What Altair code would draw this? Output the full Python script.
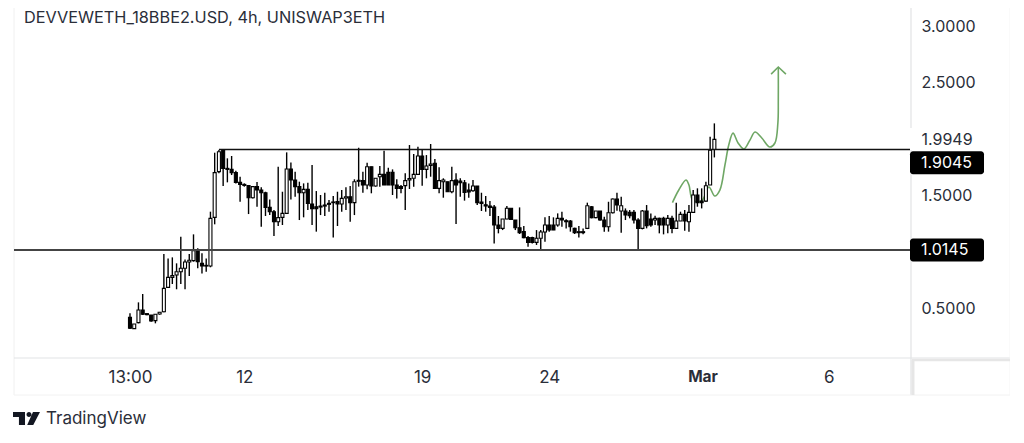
import altair as alt
import pandas as pd

# ---- chart values ----
OPEN = [.417,.317,.370,.482,.450,.438,.388,.447,.467,.683,.772,.793,.822,.852,.908,.920,1.008,.896,.878,.872,
1.304,1.709,1.895,1.738,1.729,1.700,1.614,1.596,1.585,1.478,1.576,1.546,1.522,1.392,1.354,1.265,1.304,1.339,1.732,1.635,
1.576,1.522,1.552,1.422,1.398,1.395,1.404,1.419,1.434,1.443,1.422,1.475,1.487,1.434,1.623,1.629,1.590,1.753,1.582,1.664,
1.685,1.703,1.703,1.590,1.576,1.585,1.635,1.650,1.685,1.848,1.729,1.765,1.783,1.561,1.620,1.620,1.531,1.635,1.626,1.611,
1.546,1.540,1.582,1.440,1.416,1.404,1.395,1.236,1.206,1.289,1.384,1.280,1.212,1.177,1.124,1.124,1.082,1.118,1.174,1.236,
1.236,1.236,1.295,1.274,1.271,1.206,1.168,1.168,1.206,1.398,1.301,1.360,1.280,1.221,1.345,1.466,1.360,1.360,1.348,1.348,
1.280,1.206,1.360,1.289,1.280,1.295,1.295,1.236,1.295,1.206,1.271,1.330,1.265,1.348,1.502,1.448,1.448,1.590,1.906]
CLOSE = [.320,.358,.482,.444,.441,.385,.444,.462,.674,.772,.787,.822,.852,.908,.923,1.008,.911,.872,.872,1.295,
1.700,1.886,1.738,1.729,1.700,1.614,1.596,1.587,1.478,1.576,1.546,1.522,1.392,1.354,1.265,1.301,1.339,1.732,1.635,1.576,
1.522,1.552,1.428,1.381,1.381,1.404,1.413,1.428,1.440,1.422,1.472,1.487,1.434,1.620,1.632,1.590,1.753,1.582,1.650,1.685,
1.590,1.590,1.590,1.561,1.561,1.629,1.647,1.685,1.848,1.729,1.759,1.777,1.561,1.629,1.635,1.531,1.629,1.590,1.611,1.525,
1.528,1.582,1.434,1.428,1.404,1.392,1.236,1.206,1.289,1.384,1.286,1.212,1.168,1.124,1.082,1.082,1.118,1.174,1.236,1.191,
1.191,1.295,1.280,1.265,1.221,1.168,1.177,1.177,1.407,1.301,1.360,1.280,1.221,1.345,1.466,1.413,1.407,1.324,1.318,1.280,
1.206,1.360,1.230,1.236,1.295,1.236,1.236,1.295,1.206,1.271,1.330,1.271,1.348,1.502,1.434,1.434,1.584,1.900,1.995]
HIGH = [.453,.358,.550,.624,.450,.438,.444,.465,.979,.940,.949,.896,1.132,.931,.979,1.153,1.029,.985,.940,1.354,
1.877,1.901,1.901,1.827,1.848,1.717,1.664,1.605,1.590,1.582,1.617,1.570,1.531,1.463,1.369,1.753,1.531,1.880,1.791,1.709,
1.620,1.605,1.611,1.768,1.537,1.502,1.522,1.457,1.493,1.531,1.546,1.570,1.582,1.641,1.921,1.709,1.788,1.753,1.650,1.759,
1.895,1.744,1.729,1.641,1.590,1.694,1.945,1.865,1.930,1.907,1.856,1.954,1.821,1.747,1.650,1.620,1.753,1.694,1.650,1.635,
1.605,1.635,1.582,1.522,1.493,1.449,1.413,1.316,1.289,1.404,1.384,1.280,1.392,1.227,1.138,1.132,1.191,1.191,1.304,1.316,
1.304,1.339,1.354,1.286,1.280,1.212,1.227,1.206,1.434,1.404,1.360,1.360,1.309,1.442,1.472,1.522,1.487,1.383,1.369,1.369,
1.295,1.369,1.413,1.339,1.318,1.301,1.309,1.324,1.318,1.434,1.354,1.369,1.413,1.546,1.561,1.561,1.620,2.019,2.137]
LOW = [.314,.314,.364,.438,.435,.379,.364,.441,.462,.680,.713,.666,.713,.666,.784,.911,.852,.807,.822,.861,
1.242,1.694,1.582,1.614,1.679,1.605,1.443,1.576,1.333,1.472,1.398,1.221,1.316,1.324,1.138,1.227,1.236,1.339,1.463,1.487,
1.280,1.304,1.369,1.236,1.177,1.324,1.316,1.354,1.126,1.227,1.354,1.369,1.265,1.324,1.576,1.522,1.552,1.517,1.576,1.576,
1.590,1.590,1.502,1.472,1.517,1.369,1.555,1.576,1.679,1.585,1.650,1.664,1.561,1.517,1.478,1.531,1.517,1.245,1.487,1.452,
1.478,1.531,1.413,1.360,1.354,1.316,1.073,1.162,1.191,1.286,1.280,1.191,1.156,1.118,1.044,1.073,1.059,1.014,1.088,1.177,
1.191,1.221,1.221,1.206,1.177,1.156,1.126,1.153,1.200,1.295,1.295,1.274,1.177,1.177,1.339,1.363,1.168,1.280,1.295,1.250,
1.014,1.197,1.206,1.221,1.236,1.162,1.153,1.162,1.162,1.203,1.271,1.185,1.177,1.348,1.398,1.383,1.442,1.590,1.835]

LEVEL_UPPER = 1.9045
LEVEL_LOWER = 1.0145
LEVEL_UPPER_START = 21

SKETCH_X = [128.1,129.6,131.3,132,132.9,135,136.7,138.1,139.3,140.5,141.4,142.4,143.6,145,146.4,147.6,149.2,151.1,152.3,153,153.1,153.1]
SKETCH_Y = [1.434,1.546,1.635,1.590,1.457,1.449,1.573,1.493,1.546,1.768,1.945,2.051,1.963,1.910,1.989,2.060,2.007,1.927,1.963,2.140,2.344,2.637]
HEAD_X = [151.4,153.1,154.9]
HEAD_Y = [2.574,2.637,2.574]

TICK_POS = [0,27,69,99,135.2,165]
TICK_TXT = ["13:00","12","19","24","Mar","6"]
PRICE_TICKS = [0.5,1.5,1.9949,2.5,3.0]
TAG_VALUES = ["1.9045","1.0145"]
TAG_CENTER = [1.788,1.0145]
TAG_HALF = 0.102

TITLE = "DEVVEWETH_18BBE2.USD, 4h, UNISWAP3ETH"
BRAND = "TradingView"
FONT = "Inter"
INK = "#2a2e39"
FRAME = "#e2e3e5"
GREEN = "#6fa765"
LOGO = ("M-1 -0.48H-0.11V0.48H-0.56V-0.11H-1Z"
        "M0 -0.3A0.185 0.185 0 1 1 0.37 -0.3A0.185 0.185 0 1 1 0 -0.3Z"
        "M0.48 -0.48H1L0.5 0.48H0.05Z")

# ---- tables ----
candles = pd.DataFrame({"i": range(len(OPEN)), "o": OPEN, "c": CLOSE, "h": HIGH, "l": LOW})
candles["up"] = candles["c"] >= candles["o"]
sketch = pd.DataFrame({"x": SKETCH_X, "y": SKETCH_Y, "n": range(len(SKETCH_X))})
head = pd.DataFrame({"x": HEAD_X, "y": HEAD_Y, "n": range(len(HEAD_X))})
tags = pd.DataFrame({"t": TAG_VALUES, "m": TAG_CENTER})
tags["a"] = tags["m"] - TAG_HALF
tags["b"] = tags["m"] + TAG_HALF

x_dom = [-27.39, 184.2]
y_dom = [0.0567, 3.16]
label_expr = "".join(f"datum.value=={p}?'{t}':" for p, t in zip(TICK_POS, TICK_TXT)) + "''"
x_axis = alt.Axis(values=TICK_POS, labelExpr=label_expr, grid=False, ticks=False, domain=False,
                  labelFont=FONT, labelColor=INK, labelPadding=11, labelAngle=0,
                  labelFontSize={"condition": {"test": "datum.value==135.2", "value": 15.5}, "value": 17},
                  labelFontWeight={"condition": {"test": "datum.value==135.2", "value": "bold"}, "value": "normal"},
                  labelOverlap=False, labelFlush=False)
y_axis = alt.Axis(orient="right", values=PRICE_TICKS, format=".4f", grid=False, ticks=False, domain=False,
                  labelFont=FONT, labelFontSize=16, labelColor=INK, labelPadding=11, labelOverlap=False)


def X(f):
    return alt.X(f, type="quantitative", scale=alt.Scale(domain=x_dom, nice=False, zero=False, padding=0),
                 axis=x_axis, title=None)


def Y(f):
    return alt.Y(f, type="quantitative", scale=alt.Scale(domain=y_dom, nice=False, zero=False, padding=0),
                 axis=y_axis, title=None)


one = alt.Chart(pd.DataFrame({"k": [0]}))


def frame(x, x2, y, y2, color=FRAME, w=1):
    return one.mark_rule(color=color, strokeWidth=w).encode(
        x=alt.value(x), x2=alt.value(x2), y=alt.value(y), y2=alt.value(y2))


frames = [
    frame(0, 0, 0, 387, "#f0f0f0"),
    frame(897, 897, 0, 120, FRAME, 1.2),
    frame(897, 897, 142, 387, FRAME, 1.2),
    frame(0, 996, 350, 350, FRAME, 1.2),
    frame(0, 996, 387, 387, "#f2f2f2"),
    frame(996, 996, 0, 387, "#f4f4f4"),
    frame(898, 996, 352, 352, "#e6e6e6", 2.5),
    frame(899, 899, 352, 387, "#e6e6e6", 3),
]

line_sketch = alt.Chart(sketch).mark_line(color=GREEN, strokeWidth=1.6, interpolate="catmull-rom").encode(
    x=X("x"), y=Y("y"), order="n:Q")
line_head = alt.Chart(head).mark_line(color=GREEN, strokeWidth=1.6).encode(x=X("x"), y=Y("y"), order="n:Q")

wicks = alt.Chart(candles).mark_rule(color="#000000", strokeWidth=1.4).encode(x=X("i"), y=Y("l"), y2="h")
bodies = alt.Chart(candles).mark_bar(size=3, stroke="#000000", strokeWidth=1.1).encode(
    x=X("i"), y=Y("o"), y2="c",
    fill=alt.condition("datum.up", alt.value("#ffffff"), alt.value("#000000")))

upper = alt.Chart(pd.DataFrame({"a": [LEVEL_UPPER_START], "b": [x_dom[1]], "y": [LEVEL_UPPER]})).mark_rule(
    color="#111111", strokeWidth=1.5).encode(x=X("a"), x2="b", y=Y("y"))
lower = alt.Chart(pd.DataFrame({"a": [x_dom[0]], "b": [x_dom[1]], "y": [LEVEL_LOWER]})).mark_rule(
    color="#444444", strokeWidth=2).encode(x=X("a"), x2="b", y=Y("y"))

tag_box = alt.Chart(tags).mark_rect(color="#000000", cornerRadius=3).encode(
    x=alt.value(896), x2=alt.value(970), y=Y("a"), y2="b")
tag_txt = alt.Chart(tags).mark_text(color="#ffffff", font=FONT, fontSize=16, align="left", baseline="middle").encode(
    x=alt.value(907), y=Y("m"), text="t:N")

logo = one.mark_point(shape=LOGO, filled=True, size=729, color="#131722", opacity=1, strokeWidth=0).encode(
    x=alt.value(12.5), y=alt.value(410.5))
brand = one.mark_text(color=INK, font=FONT, fontSize=17, align="left", baseline="middle").encode(
    x=alt.value(32), y=alt.value(411), text=alt.value(BRAND))

chart = alt.layer(*frames, line_sketch, line_head, wicks, bodies, upper, lower, tag_box, tag_txt, logo, brand).properties(
    width=896, height=350,
    autosize=alt.AutoSizeParams(type="none"),
    padding={"left": 6, "top": 0, "right": 100, "bottom": 72},
    background="#ffffff",
    title=alt.TitleParams(TITLE, anchor="start", font=FONT, fontSize=16.3, fontWeight="normal", color=INK,
                          offset=-19, dx=11, orient="top"),
).configure_view(stroke=None)

chart.save("out.html", embed_options={"renderer": "svg", "actions": False})
